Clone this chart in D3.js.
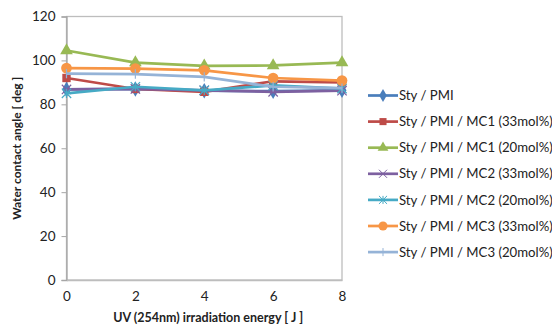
<!DOCTYPE html>
<html>
<head>
<meta charset="utf-8">
<script src="https://cdn.jsdelivr.net/npm/d3@7"></script>
<style>
  body { margin: 0; background: #fff; }
  text { font-family: Lato, "Open Sans", sans-serif; fill: #222; }
</style>
</head>
<body>
<div id="chart"></div>
<script>
var energy = [0, 2, 4, 6, 8];
var seriesNames = [
  "Sty / PMI",
  "Sty / PMI / MC1 (33mol%)",
  "Sty / PMI / MC1 (20mol%)",
  "Sty / PMI / MC2 (33mol%)",
  "Sty / PMI / MC2 (20mol%)",
  "Sty / PMI / MC3 (33mol%)",
  "Sty / PMI / MC3 (20mol%)"
];
var styPmi = [86.8, 87, 86.2, 86, 86.4];
var mc1_33 = [92, 87, 85.7, 90.5, 90];
var mc1_20 = [104.5, 99, 97.5, 97.7, 99];
var mc2_33 = [86.8, 87, 86.4, 85.7, 86.2];
var mc2_20 = [85, 88, 86.4, 88.6, 87.2];
var mc3_33 = [96.5, 96.3, 95.5, 92, 90.8];
var mc3_20 = [94, 93.8, 92.5, 88, 87.4];
var yTicks = [0, 20, 40, 60, 80, 100, 120];

var allValues = [styPmi, mc1_33, mc1_20, mc2_33, mc2_20, mc3_33, mc3_20];
var colors = ["#4a7ebb", "#be4b48", "#98b954", "#7d60a0", "#46aac5", "#f79646", "#95b3d7"];
var symbols = ["diamond", "square", "triangle", "x", "star", "circle", "plus"];

var width = 552, height = 327;
var margin = { left: 66.5, right: 210, top: 16.5, bottom: 47 };

var svg = d3.select("#chart").append("svg")
  .attr("width", width)
  .attr("height", height);

var x = d3.scaleLinear().domain([0, 8]).range([margin.left, width - margin.right]);
var y = d3.scaleLinear().domain([0, 120]).range([height - margin.bottom, margin.top]);

// plot area frame
svg.append("rect")
  .attr("x", x(0)).attr("y", y(120))
  .attr("width", x(8) - x(0)).attr("height", y(0) - y(120))
  .attr("fill", "none").attr("stroke", "#bdbdbd").attr("stroke-width", 1.3);

var yAxis = svg.append("g")
  .attr("transform", "translate(" + x(0) + ",0)")
  .call(d3.axisLeft(y).tickValues(yTicks).tickSize(5).tickPadding(6));
yAxis.select(".domain").attr("stroke", "#a6a6a6").attr("stroke-width", 1.3);
yAxis.selectAll(".tick line").attr("stroke", "#a6a6a6");
yAxis.selectAll("text").style("font-size", "13.5px").attr("fill", "#222");

var xAxis = svg.append("g")
  .attr("transform", "translate(0," + y(0) + ")")
  .call(d3.axisBottom(x).tickValues(energy).tickSize(0).tickPadding(11));
xAxis.select(".domain").attr("stroke", "#bdbdbd").attr("stroke-width", 1.3);
xAxis.selectAll("text").style("font-size", "13.5px").attr("fill", "#222");

svg.append("text")
  .attr("x", (x(0) + x(8)) / 2 + 4).attr("y", 322)
  .attr("text-anchor", "middle")
  .style("font-size", "12.5px").style("font-weight", "bold")
  .text("UV (254nm) irradiation energy [ J ]");

svg.append("text")
  .attr("transform", "translate(21," + ((y(0) + y(120)) / 2) + ") rotate(-90)")
  .attr("text-anchor", "middle")
  .style("font-size", "12px").style("font-weight", "bold")
  .text("Water contact angle [ deg ]");

function symbolFor(name, size) {
  if (name === "diamond") return d3.symbol(d3.symbolDiamond, size)();
  if (name === "square") return d3.symbol(d3.symbolSquare, size)();
  if (name === "triangle") return d3.symbol(d3.symbolTriangle, size)();
  if (name === "circle") return d3.symbol(d3.symbolCircle, size)();
  var r = Math.sqrt(size) / 2 + 0.5;
  if (name === "x") return "M" + (-r) + "," + (-r) + "L" + r + "," + r + "M" + (-r) + "," + r + "L" + r + "," + (-r);
  if (name === "plus") return "M0," + (-r) + "V" + r;
  // star: asterisk
  return "M" + (-r) + "," + (-r) + "L" + r + "," + r + "M" + (-r) + "," + r + "L" + r + "," + (-r) + "M0," + (-r) + "V" + r;
}

var line = d3.line().x(function (d, i) { return x(energy[i]); }).y(function (d) { return y(d); });

allValues.forEach(function (vals, k) {
  var g = svg.append("g");
  g.append("path")
    .attr("d", line(vals))
    .attr("fill", "none")
    .attr("stroke", colors[k])
    .attr("stroke-width", 2.7);
  var sym = symbols[k];
  var stroked = (sym === "x" || sym === "star" || sym === "plus");
  g.selectAll("path.pt").data(vals).enter().append("path")
    .attr("class", "pt")
    .attr("transform", function (d, i) { return "translate(" + x(energy[i]) + "," + y(d) + ")"; })
    .attr("d", symbolFor(sym, sym === "circle" ? 90 : 70))
    .attr("fill", stroked ? "none" : colors[k])
    .attr("stroke", colors[k])
    .attr("stroke-width", stroked ? 1.2 : 0);
});

// legend
var legend = svg.append("g");
seriesNames.forEach(function (name, k) {
  var ly = 95.5 + k * 26.1;
  legend.append("line")
    .attr("x1", 368).attr("x2", 398).attr("y1", ly).attr("y2", ly)
    .attr("stroke", colors[k]).attr("stroke-width", 2.7);
  var sym = symbols[k];
  var stroked = (sym === "x" || sym === "star" || sym === "plus");
  legend.append("path")
    .attr("transform", "translate(383," + ly + ")")
    .attr("d", symbolFor(sym, sym === "circle" ? 65 : 50))
    .attr("fill", stroked ? "none" : colors[k])
    .attr("stroke", colors[k])
    .attr("stroke-width", stroked ? 1 : 0);
  legend.append("text")
    .attr("x", 399).attr("y", ly)
    .attr("dy", "0.35em")
    .style("font-size", "13.2px")
    .text(name);
});
</script>
</body>
</html>
